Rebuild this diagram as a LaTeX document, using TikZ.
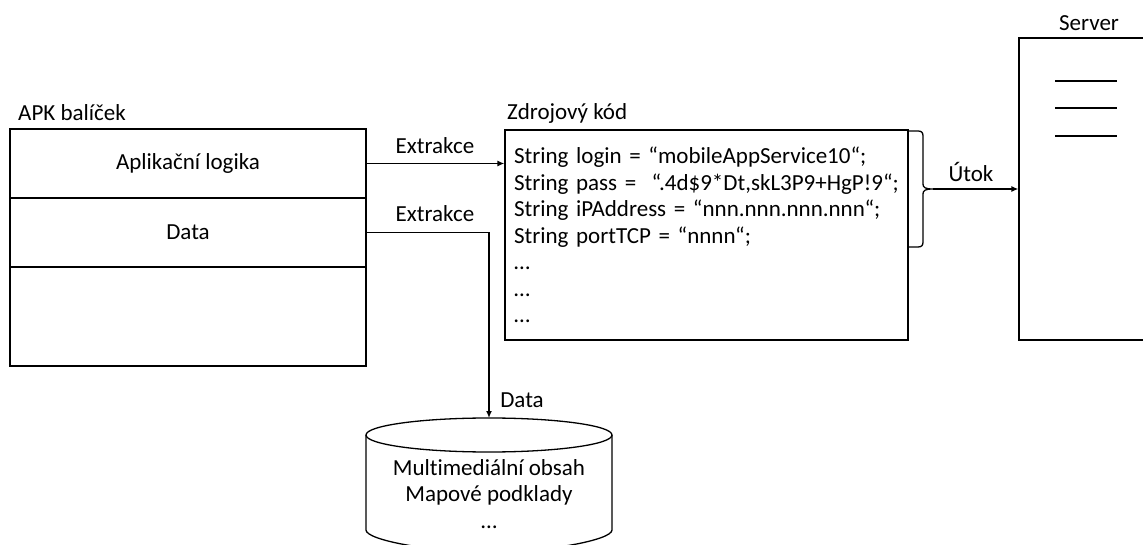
\documentclass[tikz,border=0pt]{standalone}
\usepackage{fontspec}
\setmainfont[Ligatures=NoCommon]{Carlito}
\usetikzlibrary{arrows.meta}
\begin{document}
\begin{tikzpicture}[x=1bp,y=-1bp,
  every node/.style={font=\fontsize{23bp}{26.5bp}\selectfont, inner sep=0pt},
  box/.style={draw, line width=1.3bp, rectangle},
  link/.style={line width=1.3bp, -{Latex[length=7bp,width=6bp]}},
  plain/.style={line width=1.3bp}]
\clip (0,0) rectangle (1143,545);

% APK package with its three sections
\node[anchor=west] (apklabel) at (18,113) {APK balíček};
\node[box, minimum width=356bp, minimum height=69bp] (logic) at (188,163.5) {Aplikační logika};
\node[box, minimum width=356bp, minimum height=69bp] (data) at (188,232.5) {Data};
\node[box, minimum width=356bp, minimum height=99bp] (rest) at (188,316.5) {};

% extracted source code
\node[anchor=west] (srclabel) at (507,113) {Zdrojový kód};
\node[box, minimum width=403bp, minimum height=210bp, text width=385bp, align=left, inner sep=9bp] (code) at (706.5,235)
  {String login = “mobileAppService10“;\\
   String pass =\ \ “.4d\$9*Dt,skL3P9+HgP!9“;\\
   String iPAddress = “nnn.nnn.nnn.nnn“;\\
   String portTCP = “nnnn“;\\
   …\\
   …\\
   …};

% brace grouping the credential lines
\draw[plain] (908,131) -- (918,131) .. controls (921.5,131) and (923,132.5) .. (923,136)
  -- (923,184) .. controls (923,187.5) and (925,189) .. (933,189)
  .. controls (925,189) and (923,190.5) .. (923,194)
  -- (923,242) .. controls (923,245.5) and (921.5,247) .. (918,247) -- (908,247);
\coordinate (tip) at (933,189);

% server
\node (srvlabel) at (1089,23) {Server};
\node[box, minimum width=151bp, minimum height=302bp] (server) at (1094.5,189) {};
\draw[plain] (1055,81) -- (1117,81);
\draw[plain] (1055,108) -- (1117,108);
\draw[plain] (1055,136) -- (1117,136);

% data store
\draw[plain] (366,435) -- (366,530) .. controls (366,540) and (430,552) .. (489,552)
  .. controls (548,552) and (612,540) .. (612,530) -- (612,435);
\draw[plain] (489,435) ellipse [x radius=123, y radius=17];
\coordinate (dbtop) at (489,418);
\node[align=center] (dbtext) at (489,494) {Multimediální obsah\\Mapové podklady\\…};

% connectors
\draw[link] (logic.east) -- (code.west |- logic.east);
\node (ex1) at (435,146) {Extrakce};
\draw[link] (data.east) -| (dbtop);
\node (ex2) at (435,214) {Extrakce};
\node (datalbl) at (522,400) {Data};
\draw[link] (tip) -- (server.west |- tip);
\node (attack) at (971,172) {Útok};
\end{tikzpicture}
\end{document}
